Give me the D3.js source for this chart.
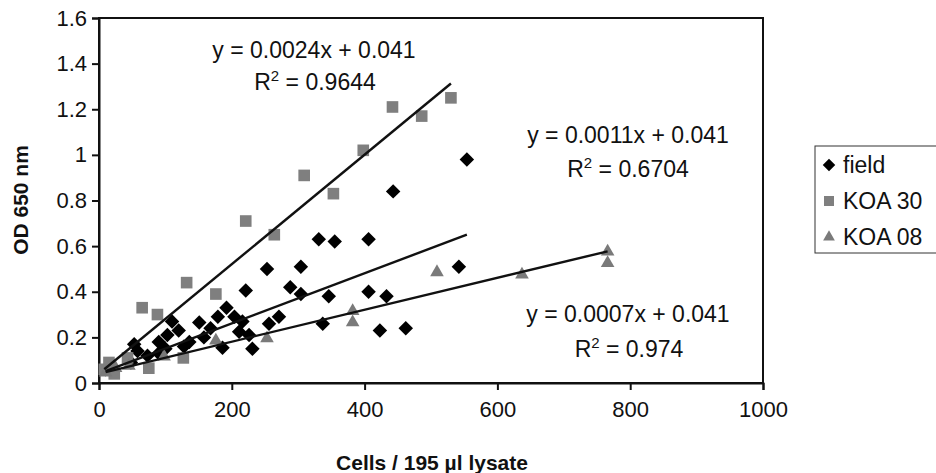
<!DOCTYPE html>
<html>
<head>
<meta charset="utf-8">
<script src="https://cdn.jsdelivr.net/npm/d3@7"></script>
<style>
  body { margin: 0; background: #fff; }
  svg { display: block; }
  svg text { font-family: Arial, "Liberation Sans", sans-serif; }
  .domain, .tick line { stroke: #111; stroke-width: 2px; }
</style>
</head>
<body>
<script>
// values (cells / 195 ul lysate, OD 650 nm)
var fieldX = [10, 20, 48, 53, 58, 73, 90, 90, 100, 103, 110, 120, 128, 136, 151, 158, 168, 179, 186, 192, 204, 211, 216, 226, 231, 221, 253, 256, 271, 288, 304, 304, 331, 355, 346, 337, 406, 406, 433, 423, 443, 462, 542, 554];
var fieldY = [0.06, 0.07, 0.09, 0.17, 0.14, 0.12, 0.18, 0.13, 0.15, 0.21, 0.27, 0.23, 0.16, 0.18, 0.265, 0.20, 0.24, 0.29, 0.155, 0.33, 0.29, 0.225, 0.27, 0.21, 0.15, 0.405, 0.50, 0.26, 0.29, 0.42, 0.51, 0.39, 0.63, 0.62, 0.38, 0.26, 0.63, 0.40, 0.38, 0.23, 0.84, 0.24, 0.51, 0.98];

var koa30X = [8, 15, 23, 43, 65, 75, 88, 127, 132, 176, 221, 264, 309, 353, 398, 442, 486, 530];
var koa30Y = [0.06, 0.09, 0.04, 0.11, 0.33, 0.065, 0.30, 0.11, 0.44, 0.39, 0.71, 0.65, 0.91, 0.83, 1.02, 1.21, 1.17, 1.25];

var koa08X = [10, 25, 45, 98, 176, 253, 382, 382, 509, 637, 766, 766];
var koa08Y = [0.05, 0.07, 0.08, 0.12, 0.19, 0.20, 0.32, 0.27, 0.49, 0.48, 0.58, 0.53];

var seriesNames = ["field", "KOA 30", "KOA 08"];
var slopes = [0.0011, 0.0024, 0.0007];
var intercepts = [0.041, 0.041, 0.041];
var rSquared = ["0.6704", "0.9644", "0.974"];

var xTicks = [0, 200, 400, 600, 800, 1000];
var yTicks = [0, 0.2, 0.4, 0.6, 0.8, 1, 1.2, 1.4, 1.6];

var width = 936, height = 473;

var svg = d3.select("body").append("svg")
    .attr("width", width)
    .attr("height", height);

var x = d3.scaleLinear().domain([0, 1000]).range([99, 763]);
var y = d3.scaleLinear().domain([0, 1.6]).range([383, 18]);

var series = [
    { name: seriesNames[0], xs: fieldX, ys: fieldY, shape: d3.symbolSquare, size: 105, rot: 45, fill: "#000" },
    { name: seriesNames[1], xs: koa30X, ys: koa30Y, shape: d3.symbolSquare, size: 135, rot: 0, fill: "#7f7f7f" },
    { name: seriesNames[2], xs: koa08X, ys: koa08Y, shape: d3.symbolTriangle, size: 80, rot: 0, fill: "#7a7a7a" }
];

// plot frame
svg.append("rect")
    .attr("x", x(0)).attr("y", y(1.6))
    .attr("width", x(1000) - x(0)).attr("height", y(0) - y(1.6))
    .attr("fill", "none").attr("stroke", "#111").attr("stroke-width", 2);

var gy = svg.append("g")
    .attr("transform", "translate(" + x(0) + ",0)")
    .call(d3.axisLeft(y).tickValues(yTicks).tickSize(7).tickPadding(5)
        .tickFormat(function (d) { return String(+d.toFixed(1)); }));

var gx = svg.append("g")
    .attr("transform", "translate(0," + y(0) + ")")
    .call(d3.axisBottom(x).tickValues(xTicks).tickSize(7).tickPadding(11)
        .tickFormat(function (d) { return String(d); }));

[gx, gy].forEach(function (g) {
    g.attr("font-family", null).attr("font-size", null);
    g.selectAll(".tick text").attr("font-size", 22).attr("fill", "#111");
});

// markers
series.forEach(function (s) {
    svg.append("g").selectAll("path")
        .data(s.xs.map(function (v, i) { return [v, s.ys[i]]; }))
        .enter().append("path")
        .attr("transform", function (d) {
            var dy = s.shape === d3.symbolTriangle ? 1 : 0;
            return "translate(" + x(d[0]) + "," + (y(d[1]) + dy) + ") rotate(" + s.rot + ")";
        })
        .attr("d", d3.symbol().type(s.shape).size(s.size))
        .attr("fill", s.fill);
});

// trend lines
var line = d3.line().x(function (d) { return x(d[0]); }).y(function (d) { return y(d[1]); });
series.forEach(function (s, i) {
    var ext = d3.extent(s.xs);
    svg.append("path")
        .datum(ext.map(function (v) { return [v, slopes[i] * v + intercepts[i]]; }))
        .attr("d", line)
        .attr("fill", "none")
        .attr("stroke", "#111")
        .attr("stroke-width", 2.4);
});

// equation labels
var labelPos = [[314, 58, 315, 90], [628, 143, 628, 177], [628, 322, 629, 357]];
var order = [1, 0, 2];
labelPos.forEach(function (p, k) {
    var i = order[k];
    svg.append("text")
        .attr("x", p[0]).attr("y", p[1])
        .attr("text-anchor", "middle")
        .attr("font-size", 23)
        .attr("fill", "#111")
        .text("y = " + slopes[i].toFixed(4) + "x + " + intercepts[i].toFixed(3));
    var r = svg.append("text")
        .attr("x", p[2]).attr("y", p[3])
        .attr("text-anchor", "middle")
        .attr("font-size", 23)
        .attr("fill", "#111");
    r.append("tspan").text("R");
    r.append("tspan").attr("font-size", 15).attr("dy", -9).text("2");
    r.append("tspan").attr("dy", 9).text(" = " + rSquared[i]);
});

// axis titles
svg.append("text")
    .attr("x", 432).attr("y", 470)
    .attr("text-anchor", "middle")
    .attr("font-size", 21).attr("font-weight", "bold")
    .attr("fill", "#111")
    .text("Cells / 195 µl lysate");

svg.append("text")
    .attr("transform", "translate(28,200) rotate(-90)")
    .attr("text-anchor", "middle")
    .attr("font-size", 21).attr("font-weight", "bold")
    .attr("fill", "#111")
    .text("OD 650 nm");

// legend
var legend = svg.append("g");
legend.append("rect")
    .attr("x", 815).attr("y", 146)
    .attr("width", 140).attr("height", 107)
    .attr("fill", "#fff").attr("stroke", "#333").attr("stroke-width", 1);

series.forEach(function (s, i) {
    var cy = 165 + i * 36;
    legend.append("path")
        .attr("transform", "translate(829," + cy + ") rotate(" + s.rot + ")")
        .attr("d", d3.symbol().type(s.shape).size(s.size * 0.75))
        .attr("fill", s.fill);
    legend.append("text")
        .attr("x", 843).attr("y", cy + 8)
        .attr("font-size", 23)
        .attr("fill", "#111")
        .text(s.name);
});
</script>
</body>
</html>
